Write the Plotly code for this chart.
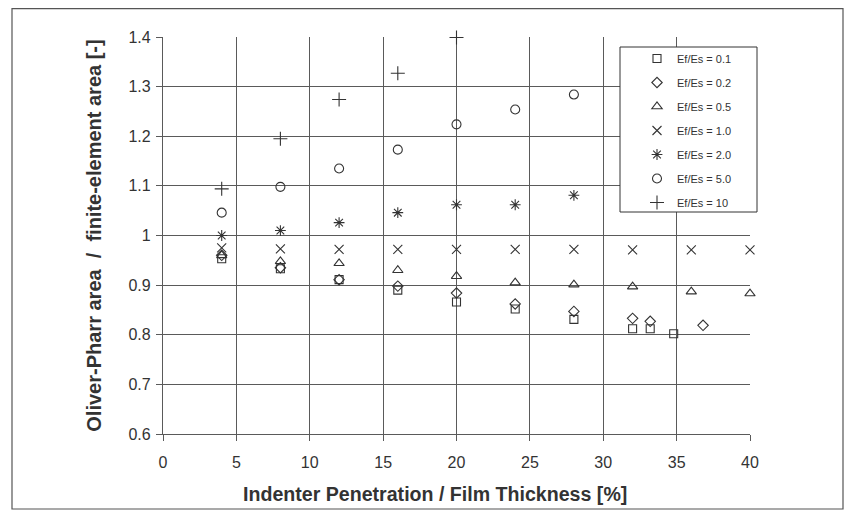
import plotly.graph_objects as go

# ---- data ----
names = ["Ef/Es = 0.1", "Ef/Es = 0.2", "Ef/Es = 0.5", "Ef/Es = 1.0",
         "Ef/Es = 2.0", "Ef/Es = 5.0", "Ef/Es = 10"]

x_01 = [4, 8, 12, 16, 20, 24, 28, 32, 33.2, 34.8]
y_01 = [0.953, 0.933, 0.911, 0.890, 0.866, 0.852, 0.831, 0.812, 0.812, 0.802]

x_02 = [4, 8, 12, 16, 20, 24, 28, 32, 33.2, 36.8]
y_02 = [0.960, 0.935, 0.911, 0.898, 0.884, 0.862, 0.847, 0.833, 0.827, 0.819]

x_05 = [4, 8, 12, 16, 20, 24, 28, 32, 36, 40]
y_05 = [0.960, 0.948, 0.944, 0.930, 0.918, 0.905, 0.901, 0.897, 0.887, 0.883]

x_10 = [4, 8, 12, 16, 20, 24, 28, 32, 36, 40]
y_10 = [0.975, 0.973, 0.972, 0.972, 0.972, 0.972, 0.972, 0.971, 0.971, 0.971]

x_20 = [4, 8, 12, 16, 20, 24, 28]
y_20 = [1.000, 1.010, 1.026, 1.046, 1.062, 1.062, 1.081]

x_50 = [4, 8, 12, 16, 20, 24, 28]
y_50 = [1.046, 1.098, 1.135, 1.173, 1.224, 1.254, 1.284]

x_100 = [4, 8, 12, 16, 20]
y_100 = [1.094, 1.195, 1.274, 1.327, 1.399]

xs = [x_01, x_02, x_05, x_10, x_20, x_50, x_100]
ys = [y_01, y_02, y_05, y_10, y_20, y_50, y_100]
symbols = ["square-open", "diamond-open", "triangle-up-open", "x-thin-open",
           "asterisk-open", "circle-open", "cross-thin-open"]
sizes = [8, 8, 9, 9, 9, 9, 10]

x_ticks = [0, 5, 10, 15, 20, 25, 30, 35, 40]
y_ticks = [0.6, 0.7, 0.8, 0.9, 1.0, 1.1, 1.2, 1.3, 1.4]
y_tick_text = ["0.6", "0.7", "0.8", "0.9", "1", "1.1", "1.2", "1.3", "1.4"]

x_title = "Indenter Penetration / Film Thickness [%]"
y_title = "Oliver-Pharr area&nbsp; /&nbsp; finite-element area [-]"

FONT = "Arial, Liberation Sans, sans-serif"
INK = "#333333"
GRID = "#5a5a5a"

# page body has an 8px margin; work in screen pixels and convert
OFF = 8
W, H = 840, 504
L = 163 - OFF
T = 37 - OFF
R = W - (750 - OFF)
B = H - (434 - OFF)
PW, PH = W - L - R, H - T - B


def px(xs_):
    return (xs_ - OFF - L) / PW


def py(ys_):
    return (H - B - (ys_ - OFF)) / PH


fig = go.Figure()
for i in range(len(names)):
    fig.add_trace(go.Scatter(
        x=xs[i], y=ys[i], mode="markers", name=names[i],
        legendgroup=f"g{i}",
        marker=dict(symbol=symbols[i], size=sizes[i], color=INK,
                    line=dict(width=1.1, color=INK)),
        cliponaxis=False,
    ))

fig.update_layout(
    width=W, height=H,
    margin=dict(l=L, r=R, t=T, b=B),
    paper_bgcolor="white", plot_bgcolor="white",
    font=dict(family=FONT, color=INK, size=16),
    showlegend=True,
    legend=dict(
        x=px(621), y=py(44), xanchor="left", yanchor="top",
        bgcolor="rgba(0,0,0,0)", borderwidth=0,
        font=dict(family=FONT, size=11, color=INK),
        tracegroupgap=5, indentation=16,
    ),
    shapes=[
        dict(type="rect", xref="paper", yref="paper",
             x0=px(12), x1=px(843), y0=py(509), y1=py(8.7),
             line=dict(color="#555555", width=1.2), fillcolor="rgba(0,0,0,0)",
             layer="below"),
        dict(type="rect", xref="paper", yref="paper",
             x0=px(620), x1=px(757), y0=py(212), y1=py(47),
             line=dict(color=INK, width=1), fillcolor="white",
             layer="above"),
    ],
    annotations=[
        dict(text=f"<b>{x_title}</b>", xref="paper", yref="paper",
             x=px(435), y=py(494), xanchor="center", yanchor="middle",
             showarrow=False, font=dict(size=19.6, color=INK)),
    ],
)

fig.update_xaxes(
    range=[0, 40], tickvals=x_ticks, ticktext=[str(v) for v in x_ticks],
    showgrid=True, gridcolor=GRID, gridwidth=1.3,
    zeroline=False, showline=True, linecolor=GRID, linewidth=1.3,
    ticks="outside", ticklen=6, tickcolor=GRID, ticklabelstandoff=8,
    tickfont=dict(size=16, color=INK),
)
fig.update_yaxes(
    range=[0.6, 1.4], tickvals=y_ticks, ticktext=y_tick_text,
    showgrid=True, gridcolor=GRID, gridwidth=1.3,
    zeroline=False, showline=True, linecolor=GRID, linewidth=1.3,
    ticks="outside", ticklen=6, tickcolor=GRID, ticklabelstandoff=2,
    tickfont=dict(size=16, color=INK),
    title=dict(text=f"<b>{y_title}</b>",
               font=dict(size=20, color=INK), standoff=21),
)

fig.write_html("out.html")
